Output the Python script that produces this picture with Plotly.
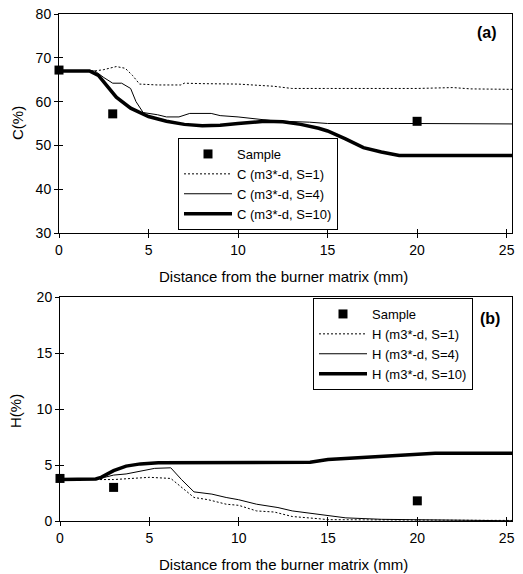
import plotly.graph_objects as go

W, H = 523, 574

# ---- data: panel (a) carbon ----
sample_x = [0, 3, 20]
c_sample = [67.2, 57.2, 55.5]

c1_x = [0, 1, 2, 2.5, 3.2, 3.7, 4.1, 4.5, 5.5, 6.8, 7.0, 8, 10, 12, 13, 15, 18, 20, 22, 23, 25.3]
c1_y = [67, 67, 67, 67.3, 68, 67.6, 66, 64, 63.8, 63.8, 64.2, 64.1, 64, 63.5, 63, 63, 63, 63, 63.2, 62.9, 62.8]

c4_x = [0, 1, 2, 2.5, 3, 3.5, 4, 4.3, 4.7, 5.5, 6, 6.7, 7.3, 8.5, 9, 10, 11, 12, 14, 15, 20, 25.3]
c4_y = [67, 67, 67, 65.5, 64.2, 64.2, 63, 60, 57.5, 57, 56.5, 56.5, 57.3, 57.3, 56.8, 56.5, 56, 55.6, 55.3, 55, 55, 54.9]

c10_x = [0, 1, 1.7, 2.2, 2.7, 3.2, 4, 5, 6, 7, 8, 9, 10, 11.5, 12.5, 13.5, 14.5, 15, 16, 17, 18, 19, 22, 25.3]
c10_y = [67, 67, 67, 66, 63.5, 61, 58.5, 56.6, 55.5, 54.8, 54.5, 54.6, 55, 55.5, 55.4, 54.8, 53.9, 53.3, 51.5, 49.5, 48.5, 47.7, 47.7, 47.7]

# ---- data: panel (b) hydrogen ----
h_sample = [3.8, 3.0, 1.8]

h1_x = [0, 1, 2, 3, 4, 5, 6.2, 6.8, 7.5, 8.3, 9.3, 10, 11, 12, 13, 14.5, 15, 17, 20, 25.3]
h1_y = [3.7, 3.7, 3.7, 3.7, 3.8, 3.9, 3.8, 3.0, 2.1, 1.9, 1.5, 1.4, 0.9, 0.8, 0.4, 0.2, 0.12, 0.1, 0.06, 0.05]

h4_x = [0, 1, 2, 2.5, 3, 3.7, 4.7, 5.3, 6.2, 6.8, 7.5, 8.5, 9.3, 10, 11, 12.2, 13, 14, 15, 16, 18, 20, 22, 25.3]
h4_y = [3.7, 3.7, 3.7, 3.9, 4.1, 4.2, 4.5, 4.7, 4.75, 3.7, 2.6, 2.4, 2.1, 1.9, 1.5, 1.2, 0.9, 0.7, 0.45, 0.28, 0.15, 0.1, 0.05, 0.02]

h10_x = [0, 1, 2, 2.3, 3, 3.7, 4.5, 5.5, 10, 12, 14, 15, 17, 19, 20, 21, 25.3]
h10_y = [3.7, 3.7, 3.75, 3.9, 4.5, 4.9, 5.1, 5.2, 5.25, 5.2, 5.25, 5.5, 5.7, 5.9, 6.0, 6.05, 6.05]

x_ticks = [0, 5, 10, 15, 20, 25]
c_ticks = [30, 40, 50, 60, 70, 80]
h_ticks = [0, 5, 10, 15, 20]

FONT = "Liberation Sans, Arial, sans-serif"


def px_x(p):
    return p / W


def px_y(p):
    return 1 - p / H


fig = go.Figure()

# panel a
fig.add_trace(go.Scatter(x=sample_x, y=c_sample, mode="markers", name="Sample",
                         marker=dict(symbol="square", size=9, color="black"),
                         cliponaxis=False, xaxis="x", yaxis="y", legend="legend"))
fig.add_trace(go.Scatter(x=c1_x, y=c1_y, mode="lines", name="C (m3*-d, S=1)",
                         line=dict(color="black", width=1, dash="2px,2px"),
                         xaxis="x", yaxis="y", legend="legend"))
fig.add_trace(go.Scatter(x=c4_x, y=c4_y, mode="lines", name="C (m3*-d, S=4)",
                         line=dict(color="black", width=1),
                         xaxis="x", yaxis="y", legend="legend"))
fig.add_trace(go.Scatter(x=c10_x, y=c10_y, mode="lines", name="C (m3*-d, S=10)",
                         line=dict(color="black", width=3.5),
                         xaxis="x", yaxis="y", legend="legend"))

# panel b
fig.add_trace(go.Scatter(x=sample_x, y=h_sample, mode="markers", name="Sample",
                         marker=dict(symbol="square", size=9, color="black"),
                         cliponaxis=False, xaxis="x2", yaxis="y2", legend="legend2"))
fig.add_trace(go.Scatter(x=h1_x, y=h1_y, mode="lines", name="H (m3*-d, S=1)",
                         line=dict(color="black", width=1, dash="2px,2px"),
                         xaxis="x2", yaxis="y2", legend="legend2"))
fig.add_trace(go.Scatter(x=h4_x, y=h4_y, mode="lines", name="H (m3*-d, S=4)",
                         line=dict(color="black", width=1),
                         xaxis="x2", yaxis="y2", legend="legend2"))
fig.add_trace(go.Scatter(x=h10_x, y=h10_y, mode="lines", name="H (m3*-d, S=10)",
                         line=dict(color="black", width=3.5),
                         xaxis="x2", yaxis="y2", legend="legend2"))

# invisible traces for inside tick overlays (cross ticks)
fig.add_trace(go.Scatter(x=[0], y=[30], mode="markers", marker=dict(opacity=0),
                         showlegend=False, hoverinfo="skip", xaxis="x3", yaxis="y3"))
fig.add_trace(go.Scatter(x=[0], y=[0], mode="markers", marker=dict(opacity=0),
                         showlegend=False, hoverinfo="skip", xaxis="x4", yaxis="y4"))

top_dom_y = [px_y(233), px_y(14)]
bot_dom_y = [px_y(521), px_y(297)]
dom_x_a = [px_x(59), px_x(512)]
dom_x_b = [px_x(60), px_x(512)]

tickfont = dict(family=FONT, size=14, color="black")


def xax(domain, anchor, **kw):
    d = dict(domain=domain, anchor=anchor, range=[0, 25.3], tickvals=x_ticks,
             ticks="outside", ticklen=4, tickwidth=1, tickcolor="black",
             showline=True, linecolor="black", linewidth=1, mirror=True,
             showgrid=False, zeroline=False, tickfont=tickfont, automargin=False)
    d.update(kw)
    return d


def yax(domain, anchor, rng, tv, **kw):
    d = dict(domain=domain, anchor=anchor, range=rng, tickvals=tv,
             ticks="outside", ticklen=4, tickwidth=1, tickcolor="black",
             showline=True, linecolor="black", linewidth=1, mirror=True,
             showgrid=False, zeroline=False, tickfont=tickfont, automargin=False)
    d.update(kw)
    return d


overlay_kw = dict(ticks="inside", showticklabels=False, showline=False, mirror=False)
legfont = dict(family=FONT, size=13, color="black")

fig.update_layout(
    width=W, height=H,
    margin=dict(l=0, r=0, t=0, b=0),
    paper_bgcolor="white", plot_bgcolor="white",
    font=dict(family=FONT, size=14, color="black"),
    xaxis=xax(dom_x_a, "y"),
    yaxis=yax(top_dom_y, "x", [30, 80], c_ticks),
    xaxis2=xax(dom_x_b, "y2"),
    yaxis2=yax(bot_dom_y, "x2", [0, 20], h_ticks),
    xaxis3=xax(dom_x_a, "y3", overlaying="x", **overlay_kw),
    yaxis3=yax(top_dom_y, "x3", [30, 80], c_ticks, overlaying="y", **overlay_kw),
    xaxis4=xax(dom_x_b, "y4", overlaying="x2", **overlay_kw),
    yaxis4=yax(bot_dom_y, "x4", [0, 20], h_ticks, overlaying="y2", **overlay_kw),
    legend=dict(x=px_x(178), y=px_y(138), xanchor="left", yanchor="top",
                bgcolor="white", bordercolor="black", borderwidth=1,
                font=legfont, itemwidth=48, tracegroupgap=0),
    legend2=dict(x=px_x(313), y=px_y(298), xanchor="left", yanchor="top",
                 bgcolor="white", bordercolor="black", borderwidth=1,
                 font=legfont, itemwidth=48, tracegroupgap=0),
    showlegend=True,
)

annos = [
    dict(text="Distance from the burner matrix (mm)", x=px_x(283), y=px_y(277)),
    dict(text="Distance from the burner matrix (mm)", x=px_x(283), y=px_y(564)),
    dict(text="C(%)", x=px_x(17), y=px_y(123), textangle=-90),
    dict(text="H(%)", x=px_x(15), y=px_y(411), textangle=-90),
    dict(text="<b>(a)</b>", x=px_x(487), y=px_y(33), font=dict(family=FONT, size=16, color="black")),
    dict(text="<b>(b)</b>", x=px_x(490), y=px_y(318), font=dict(family=FONT, size=16, color="black")),
]
for a in annos:
    base = dict(xref="paper", yref="paper", showarrow=False, xanchor="center", yanchor="middle",
                font=dict(family=FONT, size=15, color="black"))
    base.update(a)
    fig.add_annotation(**base)

fig.write_html("out.html")
